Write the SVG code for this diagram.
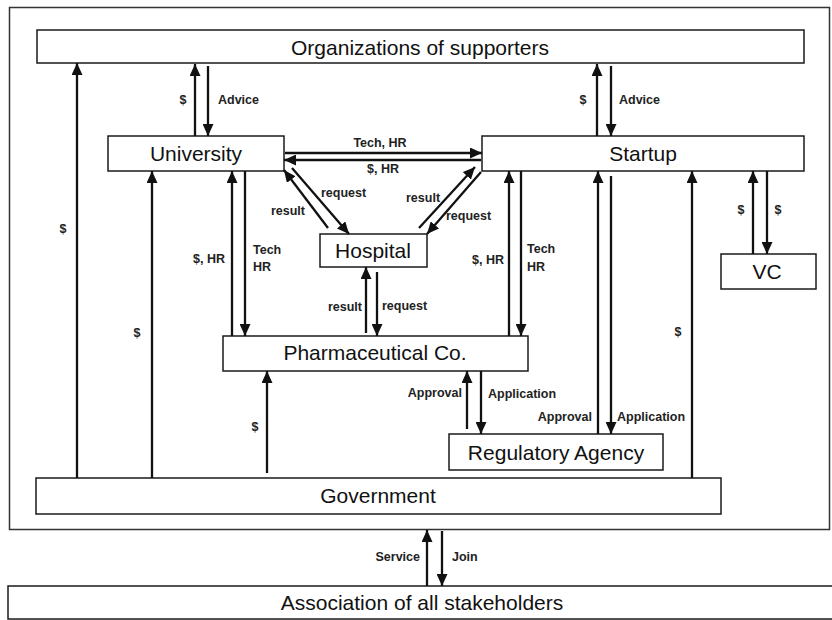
<svg xmlns="http://www.w3.org/2000/svg" width="832" height="620" viewBox="0 0 832 620">
<style>
.box{fill:#fff;stroke:#1a1a1a;stroke-width:1.5}
.frame{fill:none;stroke:#333;stroke-width:1.5}
.nt{font-family:"Liberation Sans",Arial,sans-serif;font-size:21px;fill:#111;text-anchor:middle}
.lt{font-family:"Liberation Sans",Arial,sans-serif;font-size:12.5px;font-weight:bold;fill:#222}
.c{stroke:#111;stroke-width:2.3;fill:none;marker-end:url(#ah)}
.m{text-anchor:middle}
.e{text-anchor:end}
</style>
<defs>
<marker id="ah" markerUnits="userSpaceOnUse" markerWidth="12" markerHeight="11" refX="12" refY="5.5" orient="auto">
<path d="M0,0 L12,5.5 L0,11 Z" fill="#111"/>
</marker>
</defs>
<rect width="832" height="620" fill="#fff"/>
<rect id="frame" class="frame" x="9.5" y="7.5" width="820" height="522"/>

<g id="organizations"><rect class="box" x="37" y="30" width="767" height="33"/><text class="nt" x="420" y="55">Organizations of supporters</text></g>
<g id="university"><rect class="box" x="108" y="136" width="176" height="35"/><text class="nt" x="196" y="161">University</text></g>
<g id="startup"><rect class="box" x="482" y="136" width="322" height="35"/><text class="nt" x="643" y="161">Startup</text></g>
<g id="hospital"><rect class="box" x="320" y="234" width="107" height="33"/><text class="nt" x="373" y="258">Hospital</text></g>
<g id="vc"><rect class="box" x="721" y="254" width="95" height="35"/><text class="nt" x="767" y="279">VC</text></g>
<g id="pharma"><rect class="box" x="223" y="336" width="305" height="35"/><text class="nt" x="375" y="360">Pharmaceutical Co.</text></g>
<g id="regulatory"><rect class="box" x="449" y="434" width="214" height="36"/><text class="nt" x="556" y="460">Regulatory Agency</text></g>
<g id="government"><rect class="box" x="36" y="478" width="685" height="36"/><text class="nt" x="378" y="503">Government</text></g>
<g id="association"><rect class="box" x="8" y="586" width="830" height="33"/><text class="nt" x="422" y="610">Association of all stakeholders</text></g>

<g id="connectors">
<line class="c" x1="195" y1="136" x2="195" y2="64"/>
<line class="c" x1="208" y1="66" x2="208" y2="136"/>
<line class="c" x1="597" y1="136" x2="597" y2="64"/>
<line class="c" x1="611" y1="66" x2="611" y2="136"/>
<line class="c" x1="285" y1="153" x2="482" y2="153"/>
<line class="c" x1="481" y1="160" x2="284" y2="160"/>
<line class="c" x1="328" y1="228" x2="284" y2="170"/>
<line class="c" x1="292" y1="168" x2="349" y2="234"/>
<line class="c" x1="419" y1="228" x2="475" y2="167"/>
<line class="c" x1="481" y1="172" x2="427" y2="234"/>
<line class="c" x1="232" y1="336" x2="232" y2="171"/>
<line class="c" x1="245" y1="171" x2="245" y2="336"/>
<line class="c" x1="509" y1="336" x2="509" y2="171"/>
<line class="c" x1="521" y1="171" x2="521" y2="336"/>
<line class="c" x1="366" y1="333" x2="366" y2="267"/>
<line class="c" x1="377" y1="272" x2="377" y2="336"/>
<line class="c" x1="467" y1="429" x2="467" y2="371"/>
<line class="c" x1="481" y1="371" x2="481" y2="434"/>
<line class="c" x1="598" y1="434" x2="598" y2="171"/>
<line class="c" x1="611" y1="176" x2="611" y2="434"/>
<line class="c" x1="692" y1="478" x2="692" y2="171"/>
<line class="c" x1="753" y1="254" x2="753" y2="171"/>
<line class="c" x1="767" y1="171" x2="767" y2="254"/>
<line class="c" x1="77" y1="478" x2="77" y2="63"/>
<line class="c" x1="152" y1="478" x2="152" y2="171"/>
<line class="c" x1="267" y1="473" x2="267" y2="371"/>
<line class="c" x1="427" y1="586" x2="427" y2="530"/>
<line class="c" x1="442" y1="531" x2="442" y2="586"/>

<text class="lt m" x="183" y="104">$</text>
<text class="lt" x="218" y="104">Advice</text>
<text class="lt m" x="583" y="104">$</text>
<text class="lt" x="619" y="104">Advice</text>
<text class="lt m" x="380" y="147">Tech, HR</text>
<text class="lt m" x="383" y="173">$, HR</text>
<text class="lt" x="321" y="197">request</text>
<text class="lt e" x="305" y="215">result</text>
<text class="lt" x="406" y="202">result</text>
<text class="lt" x="446" y="220">request</text>
<text class="lt e" x="225" y="263">$, HR</text>
<text class="lt" x="253" y="254">Tech</text>
<text class="lt" x="253" y="271">HR</text>
<text class="lt e" x="504" y="264">$, HR</text>
<text class="lt" x="527" y="253">Tech</text>
<text class="lt" x="527" y="271">HR</text>
<text class="lt e" x="362" y="311">result</text>
<text class="lt" x="382" y="310">request</text>
<text class="lt e" x="462" y="397">Approval</text>
<text class="lt" x="488" y="398">Application</text>
<text class="lt e" x="592" y="421">Approval</text>
<text class="lt" x="617" y="421">Application</text>
<text class="lt m" x="63" y="233">$</text>
<text class="lt m" x="137" y="337">$</text>
<text class="lt m" x="255" y="431">$</text>
<text class="lt m" x="678" y="336">$</text>
<text class="lt m" x="741" y="214">$</text>
<text class="lt m" x="778" y="214">$</text>
<text class="lt e" x="420" y="561">Service</text>
<text class="lt" x="452" y="561">Join</text>
</g>
</svg>
